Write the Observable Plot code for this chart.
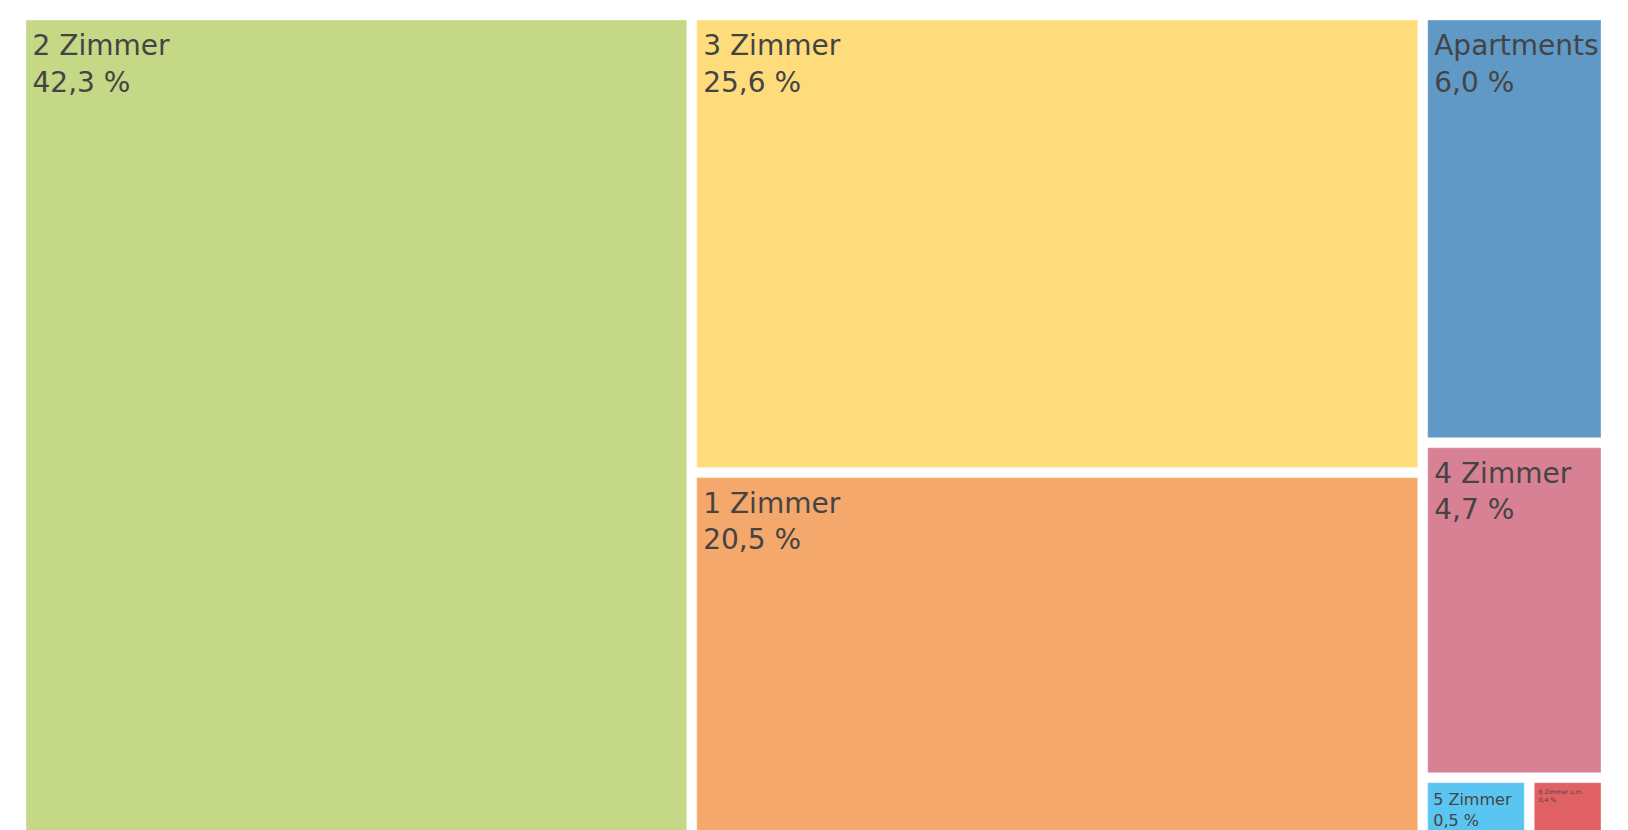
<!DOCTYPE html>
<html>
<head>
<meta charset="utf-8">
<script src="https://cdn.jsdelivr.net/npm/d3@7"></script>
<script src="https://cdn.jsdelivr.net/npm/@observablehq/plot@0.6"></script>
<style>
  html, body { margin: 0; padding: 0; background: #fff; }
  #chart { width: 1628px; height: 830px; overflow: hidden; }
</style>
</head>
<body>
<div id="chart"></div>
<script>
// Data
const categories = ["2 Zimmer", "3 Zimmer", "1 Zimmer", "Apartments", "4 Zimmer", "5 Zimmer", "6 Zimmer u.m."];
const shares = [42.3, 25.6, 20.5, 6.0, 4.7, 0.5, 0.36];
const labels = ["42,3 %", "25,6 %", "20,5 %", "6,0 %", "4,7 %", "0,5 %", "0,4 %"];
const colors = ["#c5d886", "#ffdc7b", "#f4a86c", "#6199c6", "#d98194", "#5bc5f1", "#e06163"];

const W = 1575, H = 814;

const root = d3.hierarchy({children: categories.map((name, i) => ({name, value: shares[i], label: labels[i], color: colors[i]}))})
  .sum(d => d.value || 0)
  .sort((a, b) => b.value - a.value);

d3.treemap()
  .tile(d3.treemapSquarify.ratio(1))
  .size([W, H])
  .paddingInner(10)(root);

const leaves = root.leaves().map(n => ({
  name: n.data.name,
  label: n.data.label,
  color: n.data.color,
  x0: n.x0, x1: n.x1, y0: n.y0, y1: n.y1,
  w: n.x1 - n.x0
}));

const big = leaves.filter(d => d.w > 150);
const mid = leaves.filter(d => d.w <= 150 && d.w > 80);
const tiny = leaves.filter(d => d.w <= 80);

const textOpts = (fs, dx, dy) => ({
  x: "x0", y: "y0",
  text: d => d.name + "\n" + d.label,
  fill: "#444",
  fontSize: fs,
  lineHeight: 1.3,
  textAnchor: "start",
  lineAnchor: "top",
  dx, dy
});

const chart = Plot.plot({
  width: 1628,
  height: 830,
  margin: 0,
  style: {fontFamily: "'DejaVu Sans', Verdana, sans-serif", background: "#fff"},
  x: {domain: [0, W], range: [26, 26 + W], axis: null},
  y: {domain: [0, H], range: [20, 20 + H], axis: null},
  marks: [
    Plot.rect(leaves, {x1: "x0", x2: "x1", y1: "y0", y2: "y1", fill: "color", stroke: "#fff", strokeOpacity: 0.35, strokeWidth: 1}),
    Plot.text(big, textOpts(28, 6, 9)),
    Plot.text(mid, textOpts(16, 5, 7)),
    Plot.text(tiny, textOpts(6, 4, 5))
  ]
});

document.getElementById("chart").appendChild(chart);
</script>
</body>
</html>
